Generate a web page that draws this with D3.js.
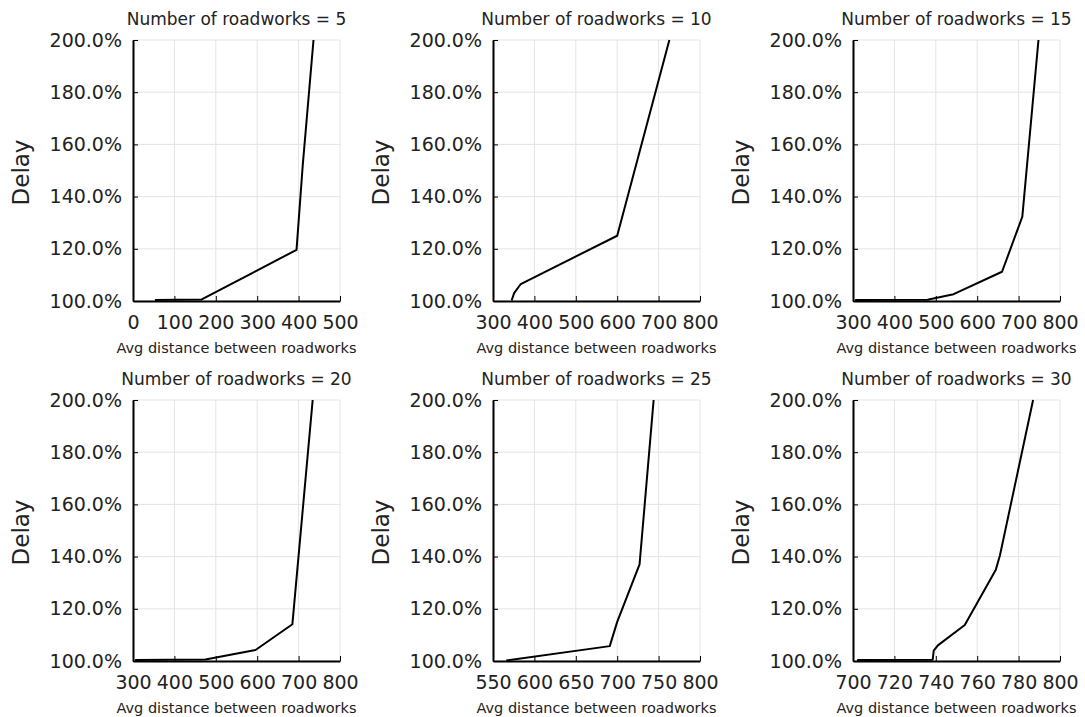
<!DOCTYPE html>
<html>
<head>
<meta charset="utf-8">
<script src="https://cdn.jsdelivr.net/npm/d3@7"></script>
<style>
  html, body { margin: 0; padding: 0; background: #fff; }
  svg text { font-family: "DejaVu Sans", sans-serif; fill: #222; }
</style>
</head>
<body>
<svg id="chart" width="1085" height="717"></svg>
<script>
// Number of roadworks shown in each panel
const roadworkCounts = [5, 10, 15, 20, 25, 30];

// x-axis ranges and tick values for each panel
const xDomains = [[0, 500], [300, 800], [300, 800], [300, 800], [550, 800], [700, 800]];
const xTicks5  = [0, 100, 200, 300, 400, 500];
const xTicks10 = [300, 400, 500, 600, 700, 800];
const xTicks15 = [300, 400, 500, 600, 700, 800];
const xTicks20 = [300, 400, 500, 600, 700, 800];
const xTicks25 = [550, 600, 650, 700, 750, 800];
const xTicks30 = [700, 720, 740, 760, 780, 800];

// Delay axis (percent)
const delayDomain = [100, 200];
const delayTicks = [100, 120, 140, 160, 180, 200];

// Average distance between roadworks vs. delay (%), one pair per panel
const dist5   = [53, 166, 395, 410, 436];
const delay5  = [100.4, 100.6, 119.6, 152, 200];
const dist10  = [345, 351, 367, 600, 726];
const delay10 = [100.2, 103, 106.5, 125, 200];
const dist15  = [305, 480, 543, 660, 709, 748];
const delay15 = [100.4, 100.5, 102.6, 111.2, 132.3, 200];
const dist20  = [305, 475, 596, 685, 734];
const delay20 = [100.4, 100.6, 104.2, 114.1, 200];
const dist25  = [566, 691, 700, 727, 744];
const delay25 = [100.2, 105.7, 115, 137, 200];
const dist30  = [702, 738.5, 739, 741, 754, 769, 771, 787];
const delay30 = [100.4, 100.5, 104, 106, 113.8, 135, 140.5, 200];

const xTickSets = [xTicks5, xTicks10, xTicks15, xTicks20, xTicks25, xTicks30];
const distSets  = [dist5, dist10, dist15, dist20, dist25, dist30];
const delaySets = [delay5, delay10, delay15, delay20, delay25, delay30];

const svg = d3.select("#chart");
const plotW = 207, plotH = 261;
const colStep = 360, rowStep = 360;
const left0 = 133, top0 = 40;

roadworkCounts.forEach((count, i) => {
  const col = i % 3, row = Math.floor(i / 3);
  const left = left0 + col * colStep;
  const top = top0 + row * rowStep;
  const bottom = top + plotH, right = left + plotW;

  const x = d3.scaleLinear().domain(xDomains[i]).range([left, right]);
  const y = d3.scaleLinear().domain(delayDomain).range([bottom, top]);

  const g = svg.append("g");

  // grid
  g.append("g").selectAll("line.vg").data(xTickSets[i]).join("line")
    .attr("x1", d => x(d)).attr("x2", d => x(d))
    .attr("y1", top).attr("y2", bottom)
    .attr("stroke", "#e4e4e4").attr("stroke-width", 1);
  g.append("g").selectAll("line.hg").data(delayTicks).join("line")
    .attr("x1", left).attr("x2", right)
    .attr("y1", d => y(d)).attr("y2", d => y(d))
    .attr("stroke", "#e4e4e4").attr("stroke-width", 1);

  // axes
  const yAxis = d3.axisLeft(y).tickValues(delayTicks)
    .tickFormat(d => d.toFixed(1) + "%")
    .tickSizeInner(-5).tickSizeOuter(0).tickPadding(11);
  const yG = g.append("g").attr("transform", `translate(${left},0)`).call(yAxis);

  const xAxis = d3.axisBottom(x).tickValues(xTickSets[i])
    .tickFormat(d3.format("d"))
    .tickSizeInner(-5).tickSizeOuter(0).tickPadding(15);
  const xG = g.append("g").attr("transform", `translate(0,${bottom})`).call(xAxis);

  [yG, xG].forEach(a => {
    a.select(".domain").attr("stroke", "#000").attr("stroke-width", 2);
    a.selectAll(".tick line").attr("stroke", "#000").attr("stroke-width", 1);
    a.selectAll(".tick text").attr("font-size", 19).attr("fill", "#222")
      .attr("font-family", "DejaVu Sans, sans-serif");
  });

  // data line
  const clipId = "clip" + i;
  svg.append("clipPath").attr("id", clipId).append("rect")
    .attr("x", left).attr("y", top - 1).attr("width", plotW + 1).attr("height", plotH + 2);

  const pts = distSets[i].map((d, k) => [d, delaySets[i][k]]);
  g.append("path")
    .datum(pts)
    .attr("clip-path", `url(#${clipId})`)
    .attr("fill", "none").attr("stroke", "#000").attr("stroke-width", 2)
    .attr("stroke-linejoin", "round")
    .attr("d", d3.line().x(d => x(d[0])).y(d => y(d[1])));

  // titles and labels
  g.append("text")
    .attr("x", (left + right) / 2).attr("y", top - 15)
    .attr("text-anchor", "middle").attr("font-size", 17)
    .text(`Number of roadworks = ${count}`);

  g.append("text")
    .attr("x", (left + right) / 2).attr("y", bottom + 52)
    .attr("text-anchor", "middle").attr("font-size", 14.5)
    .text("Avg distance between roadworks");

  g.append("text")
    .attr("transform", `translate(${left - 104},${(top + bottom) / 2 + 2}) rotate(-90)`)
    .attr("text-anchor", "middle").attr("font-size", 23)
    .text("Delay");
});
</script>
</body>
</html>
